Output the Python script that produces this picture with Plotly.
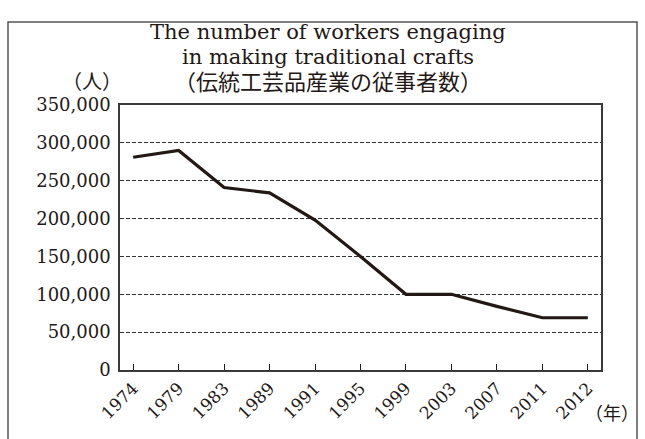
import plotly.graph_objects as go

years = ["1974", "1979", "1983", "1989", "1991", "1995", "1999", "2003", "2007", "2011", "2012"]
workers = [281000, 290000, 241000, 234000, 198000, 150000, 100000, 100000, 84000, 69000, 69000]
y_ticks = [0, 50000, 100000, 150000, 200000, 250000, 300000, 350000]
y_tick_labels = ["0", "50,000", "100,000", "150,000", "200,000", "250,000", "300,000", "350,000"]
title_lines = ["The number of workers engaging", "in making traditional crafts", "（伝統工芸品産業の従事者数）"]

FONT = "DejaVu Serif, Noto Sans CJK JP, serif"
INK = "#231815"

fig = go.Figure()
fig.add_trace(go.Scatter(x=years, y=workers, mode="lines",
                         line=dict(color=INK, width=3.2), showlegend=False,
                         hoverinfo="skip"))

L, R, T, B = 120, 44, 105, 69
W, H = 645, 439
pw, ph = W - L - R, H - T - B

def px_x(x):
    return (x - L) / pw

def px_y(y):
    return (H - B - y) / ph

fig.update_layout(
    width=W, height=H,
    margin=dict(l=L, r=R, t=T, b=B),
    paper_bgcolor="white", plot_bgcolor="white",
    font=dict(family=FONT, color=INK, size=16),
    xaxis=dict(type="category", range=[-0.29, 10.29], showgrid=False,
               showline=True, linecolor="#3a3a3a", linewidth=1.5, mirror=True,
               ticks="inside", ticklen=6, tickwidth=1.2, tickcolor=INK,
               tickangle=-45, tickfont=dict(size=17, family=FONT),
               zeroline=False, fixedrange=True),
    yaxis=dict(range=[0, 350000], tickvals=y_ticks, ticktext=y_tick_labels,
               showgrid=True, gridcolor="#333333", griddash="4px,2px", gridwidth=1,
               showline=True, linecolor="#3a3a3a", linewidth=1.5, mirror=True,
               ticks="", tickfont=dict(size=18, family=FONT), zeroline=False,
               ticklabelstandoff=4, fixedrange=True),
)

title_y = [32, 57, 82]
title_size = [21, 21, 22]
for line, yy, sz in zip(title_lines, title_y, title_size):
    fig.add_annotation(xref="paper", yref="paper", x=px_x(328), y=px_y(yy),
                       text=line, showarrow=False,
                       font=dict(size=sz, family=FONT, color=INK),
                       xanchor="center", yanchor="middle")
fig.add_annotation(xref="paper", yref="paper", x=px_x(92), y=px_y(82),
                   text="（人）", showarrow=False,
                   font=dict(size=20, family=FONT, color=INK),
                   xanchor="center", yanchor="middle")
fig.add_annotation(xref="paper", yref="paper", x=px_x(612), y=px_y(413),
                   text="（年）", showarrow=False,
                   font=dict(size=18, family=FONT, color=INK),
                   xanchor="center", yanchor="middle")

fig.add_shape(type="rect", xref="paper", yref="paper",
              x0=px_x(8), x1=px_x(637), y0=px_y(460), y1=px_y(22),
              line=dict(color="#555555", width=1.5), fillcolor="rgba(0,0,0,0)",
              layer="below")

fig.write_html("out.html", config={"displayModeBar": False},
               post_script="document.body.style.margin='0';")
